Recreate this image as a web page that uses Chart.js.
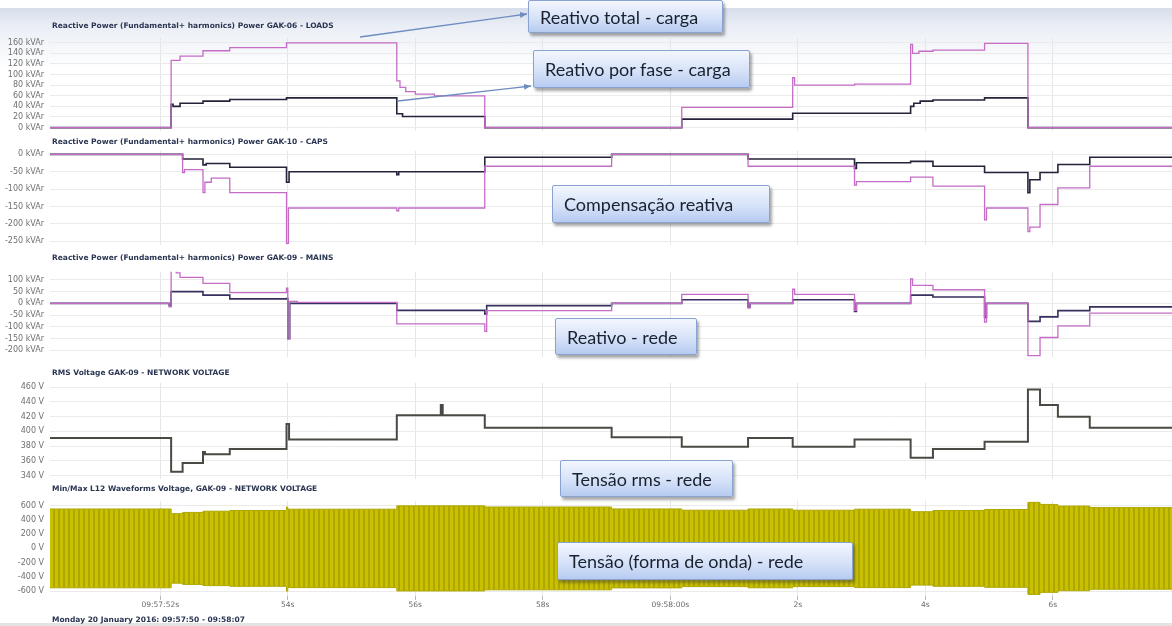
<!DOCTYPE html>
<html>
<head>
<meta charset="utf-8">
<script src="https://cdn.jsdelivr.net/npm/chart.js@4.4.1/dist/chart.umd.min.js"></script>
<style>
  body { margin:0; width:1172px; height:626px; overflow:hidden; background:#fff; position:relative; font-family:"DejaVu Sans", sans-serif; }
  #band { position:absolute; left:0; top:8px; width:1172px; height:60px; background:linear-gradient(#d6deeb, #eaeef5 30%, #ffffff); }
  #base { position:absolute; left:0; top:623px; width:1172px; height:3px; background:#e2e2e2; }
  canvas { position:absolute; left:0; }
  .ttl { position:absolute; left:52px; font:bold 7.5px "DejaVu Sans", sans-serif; color:#2a3552; white-space:nowrap; }
  .foot { position:absolute; left:52px; top:615px; font:bold 7.5px "DejaVu Sans", sans-serif; color:#2a3552; white-space:nowrap; }
  .note { position:absolute; box-sizing:border-box; border:1px solid #8aa2d0; border-radius:2px;
          background:linear-gradient(#f3f6fe, #d6e2f8 55%, #b7cbf1);
          box-shadow:2px 3px 3px rgba(60,60,60,.45); font:18px Lato, "Open Sans", sans-serif; color:#19212f;
          padding-left:11px; display:flex; align-items:center; white-space:nowrap; }
  svg { position:absolute; left:0; top:0; }
</style>
</head>
<body>
<div id="band"></div>
<div id="base"></div>

<canvas id="p1"></canvas>
<canvas id="p2"></canvas>
<canvas id="p3"></canvas>
<canvas id="p4"></canvas>
<canvas id="p5"></canvas>

<div class="ttl" style="top:21px">Reactive Power (Fundamental+ harmonics) Power GAK-06 - LOADS</div>
<div class="ttl" style="top:137px">Reactive Power (Fundamental+ harmonics) Power GAK-10 - CAPS</div>
<div class="ttl" style="top:253px">Reactive Power (Fundamental+ harmonics) Power GAK-09 - MAINS</div>
<div class="ttl" style="top:368px">RMS Voltage GAK-09 - NETWORK VOLTAGE</div>
<div class="ttl" style="top:484px">Min/Max L12 Waveforms Voltage, GAK-09 - NETWORK VOLTAGE</div>
<div class="foot">Monday 20 January 2016: 09:57:50 - 09:58:07</div>

<svg width="1172" height="626">
  <defs>
    <marker id="ah" markerWidth="8" markerHeight="8" refX="7" refY="4" orient="auto" markerUnits="userSpaceOnUse">
      <path d="M0,1 L7,4 L0,7 z" fill="#6f8cc0"/>
    </marker>
  </defs>
  <line x1="360" y1="37" x2="527" y2="14" stroke="#6f8cc0" stroke-width="1.3" marker-end="url(#ah)"/>
  <line x1="398" y1="101" x2="531" y2="86" stroke="#6f8cc0" stroke-width="1.3" marker-end="url(#ah)"/>
</svg>

<div class="note" style="left:528px;top:0px;width:195px;height:33px">Reativo total - carga</div>
<div class="note" style="left:533px;top:50px;width:217px;height:38px">Reativo por fase - carga</div>
<div class="note" style="left:552px;top:185px;width:218px;height:38px">Compensação reativa</div>
<div class="note" style="left:555px;top:318px;width:142px;height:37px">Reativo - rede</div>
<div class="note" style="left:560px;top:460px;width:173px;height:37px">Tensão rms - rede</div>
<div class="note" style="left:557px;top:542px;width:296px;height:38px">Tensão (forma de onda) - rede</div>

<script>
// ---- time axis (seconds after 09:57:00) ----
const timeStart = 50.27;
const timeEnd = 67.87;
const xTickValues = [52, 54, 56, 58, 60, 62, 64, 66];
const xTickLabels = ['09:57:52s', '54s', '56s', '58s', '09:58:00s', '2s', '4s', '6s'];

// ---- GAK-06 LOADS, reactive power [t, kVAr] ----
const loadsTotal = [[50.27,0],[52.17,127],[52.31,135],[52.67,145],[53.09,151],[53.98,160],
  [55.71,88],[55.76,76],[55.85,68],[56.0,63],[56.3,60],[57.09,0],[60.18,38],[61.92,94],[61.95,80],[62.89,82],
  [63.77,157],[63.80,140],[63.90,144],[64.12,146],[64.93,159],[65.61,0],[67.87,0]];
const loadsPhase = [[50.27,0],[52.17,44],[52.20,40],[52.31,46],[52.67,50],[53.09,53],[53.98,56],
  [55.71,26],[55.8,21],[57.09,0],[60.18,16],[61.92,27],[62.89,27],
  [63.77,40],[63.82,46],[63.92,50],[64.12,52],[64.93,56],[65.61,0],[67.87,0]];

// ---- GAK-10 CAPS, reactive power [t, kVAr] ----
const capsTotal = [[50.27,0],[52.35,-52],[52.38,-44],[52.67,-110],[52.70,-80],[52.80,-68],[53.09,-110],
  [53.98,-256],[54.01,-154],[55.71,-162],[55.74,-154],[57.09,-34],[59.08,0],[61.22,-34],
  [62.89,-88],[62.92,-78],[63.77,-65],[64.12,-91],[64.93,-188],[64.96,-154],[65.61,-222],[65.64,-209],
  [65.80,-144],[66.08,-96],[66.58,-34],[67.87,-34]];
const capsPhase = [[50.27,0],[52.35,-13],[52.67,-30],[52.72,-26],[53.09,-37],[53.98,-80],[54.02,-50],
  [55.71,-58],[55.74,-50],[57.09,-8],[59.08,0],[61.22,-13],[62.89,-40],[62.92,-24],[63.77,-20],[64.12,-34],
  [64.93,-52],[65.61,-110],[65.64,-73],[65.80,-52],[66.08,-29],[66.58,-8],[67.87,-8]];

// ---- GAK-09 MAINS, reactive power [t, kVAr] ----
const mainsTotal = [[50.27,0],[52.14,-15],[52.17,142],[52.25,130],[52.31,111],[52.67,85],[53.09,46],
  [53.98,65],[54.0,-153],[54.03,8],[54.15,4],[55.71,-88],[57.09,-120],[57.12,-31],[59.08,0],[60.18,38],
  [61.22,-20],[61.25,0],[61.92,60],[61.95,38],[62.89,-30],[62.92,0],[63.77,104],[63.80,77],[64.12,58],
  [64.93,-80],[64.96,0],[65.61,-223],[65.80,-146],[66.08,-96],[66.58,-42],[67.87,-42]];
const mainsPhase = [[50.27,0],[52.14,-10],[52.17,50],[52.67,35],[53.09,19],[53.98,20],[54.0,-150],[54.03,0],
  [55.71,-30],[57.09,-45],[57.12,-10],[59.08,0],[60.18,15],[61.22,-15],[61.25,0],[61.92,15],[62.89,-35],[62.92,0],
  [63.77,35],[64.12,27],[64.93,-60],[64.96,0],[65.61,-77],[65.80,-58],[66.08,-31],[66.58,-15],[67.87,-15]];

// ---- GAK-09 RMS voltage [t, V] ----
const rmsVoltage = [[50.27,391],[52.17,345],[52.35,357],[52.67,372],[52.70,369],[53.09,376],[53.98,410],[54.02,389],
  [55.71,422],[56.4,436],[56.43,422],[57.09,405],[59.08,392],[60.18,379],[61.22,391],[61.92,379],[62.89,389],
  [63.77,364],[64.12,376],[64.93,386],[65.61,457],[65.80,436],[66.08,420],[66.58,405],[67.87,405]];

// ---- L12 waveform min/max envelope [t, V] ----
const waveMax = [[50.27,553],[52.17,488],[52.35,505],[52.67,522],[53.09,532],[53.98,580],[54.0,550],
  [55.71,597],[57.09,581],[59.08,554],[60.18,536],[61.22,553],[61.92,536],[62.89,550],[63.77,515],
  [64.12,532],[64.93,546],[65.61,646],[65.80,617],[66.08,594],[66.58,573],[67.87,573]];
const waveMin = [[50.27,-553],[52.17,-488],[52.35,-505],[52.67,-522],[53.09,-532],[53.98,-600],[54.0,-550],
  [55.71,-597],[57.09,-581],[59.08,-554],[60.18,-536],[61.22,-553],[61.92,-536],[62.89,-550],[63.77,-515],
  [64.12,-532],[64.93,-546],[65.61,-646],[65.80,-617],[66.08,-594],[66.58,-573],[67.87,-573]];

// ---- y-axis ticks ----
const loadsTicks = [0, 20, 40, 60, 80, 100, 120, 140, 160];
const capsTicks = [-250, -200, -150, -100, -50, 0];
const mainsTicks = [-200, -150, -100, -50, 0, 50, 100];
const rmsTicks = [340, 360, 380, 400, 420, 440, 460];
const waveTicks = [-600, -400, -200, 0, 200, 400, 600];

const PINK = '#c46cc6';
const DARK = '#25233a';

function pts(arr) { return arr.map(([x, y]) => ({ x, y })); }

function line(data, color, width) {
  return { data: pts(data), borderColor: color, borderWidth: width, stepped: true,
           pointRadius: 0, fill: false, tension: 0 };
}

function stripePattern() {
  const c = document.createElement('canvas');
  c.width = 5; c.height = 4;
  const g = c.getContext('2d');
  g.fillStyle = 'rgb(200,192,0)';
  g.fillRect(0, 0, 5, 4);
  g.fillStyle = 'rgb(174,167,0)';
  g.fillRect(3, 0, 2, 4);
  return g.createPattern(c, 'repeat');
}

function panel(id, plotTop, plotBottom, yMin, yMax, tickVals, unit, datasets, bottomAxis) {
  const padT = 6, padB = bottomAxis ? 0 : 6, axisH = bottomAxis ? 18 : 0;
  const cv = document.getElementById(id);
  cv.width = 1172;
  cv.height = (plotBottom - plotTop) + padT + padB + axisH;
  cv.style.top = (plotTop - padT) + 'px';
  return new Chart(cv, {
    type: 'line',
    data: { datasets },
    options: {
      responsive: false, animation: false, devicePixelRatio: 1,
      layout: { padding: { top: padT, bottom: padB, left: 0, right: 0 } },
      plugins: { legend: { display: false }, tooltip: { enabled: false }, title: { display: false } },
      scales: {
        x: {
          type: 'linear', min: timeStart, max: timeEnd,
          afterBuildTicks: s => { s.ticks = xTickValues.map(v => ({ value: v })); },
          afterFit: s => { s.height = axisH; },
          border: { display: false },
          grid: { color: '#e6e6e6', lineWidth: 1, drawTicks: bottomAxis, tickLength: 4, tickColor: '#b8b8b8' },
          ticks: {
            display: bottomAxis, padding: 1, color: '#6a6a6a', font: { size: 7.5, family: 'DejaVu Sans' },
            maxRotation: 0, autoSkip: false,
            callback: v => { const i = xTickValues.indexOf(v); return i >= 0 ? xTickLabels[i] : ''; }
          }
        },
        y: {
          min: yMin, max: yMax,
          afterBuildTicks: s => { s.ticks = tickVals.map(v => ({ value: v })); },
          afterFit: s => { s.width = 50; },
          border: { display: false },
          grid: { color: '#ebebeb', lineWidth: 1, drawTicks: false },
          ticks: { padding: 6, color: '#707070', font: { size: 8, family: 'DejaVu Sans' },
                   callback: v => v + ' ' + unit }
        }
      }
    }
  });
}

panel('p1', 33, 136, -6.8, 169.4, loadsTicks, 'kVAr',
  [line(loadsTotal, PINK, 1.3), line(loadsPhase, DARK, 1.6)], false);

panel('p2', 146, 250, -261, 10.4, capsTicks, 'kVAr',
  [line(capsTotal, PINK, 1.3), line(capsPhase, DARK, 1.6)], false);

panel('p3', 267, 362, -230, 134.6, mainsTicks, 'kVAr',
  [line(mainsTotal, PINK, 1.3), line(mainsPhase, '#35305e', 1.6)], false);

panel('p4', 378, 484, 335, 466, rmsTicks, 'V',
  [line(rmsVoltage, '#4a4a44', 2)], false);

const fillPat = stripePattern();
panel('p5', 496, 596, -668, 668, waveTicks, 'V',
  [ { data: pts(waveMax), borderColor: '#b0a800', borderWidth: 1, stepped: true, pointRadius: 0, fill: false },
    { data: pts(waveMin), borderColor: '#b0a800', borderWidth: 1, stepped: true, pointRadius: 0,
      fill: '-1', backgroundColor: fillPat } ], true);
</script>
</body>
</html>
